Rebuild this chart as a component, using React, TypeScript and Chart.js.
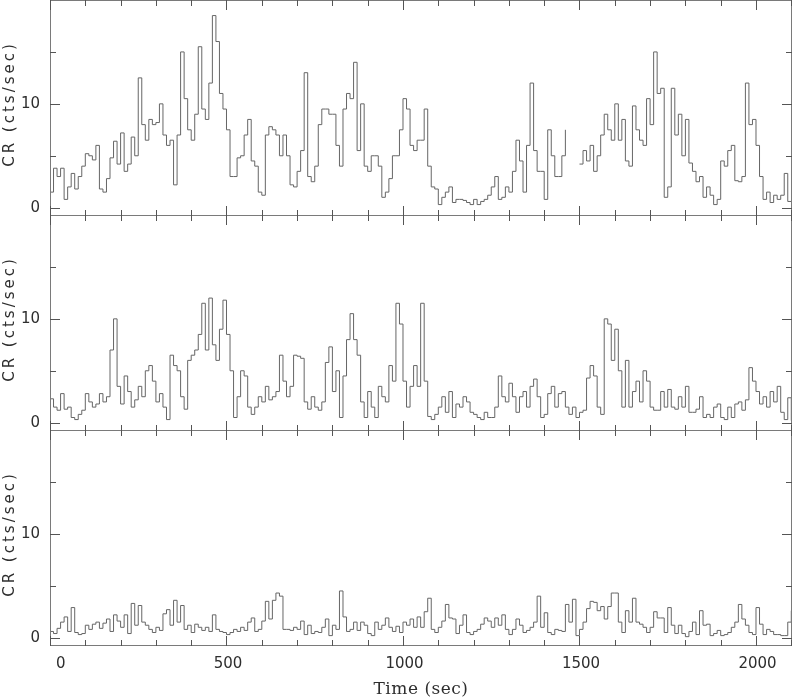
import React, { useEffect, useRef } from 'react';
import { Chart, registerables } from 'chart.js';

Chart.register(...registerables);

// ---- data -------------------------------------------------------------
const BIN_SEC = 10; // light-curve bin width (s); bin start time = index * BIN_SEC
const X_TICK_LABELS = [0, 500, 1000, 1500, 2000];
const X_MINOR_STEP = 100;
const Y_TICK_LABELS = [0, 10];
const Y_MINOR_TICKS = [5, 15];
const X_TITLE = 'Time (sec)';
const Y_TITLE = 'CR (cts/sec)';

// count rate, panel 1 (top), one value per 10 s bin, 0 .. 2100 s
const RATE_A: (number | null)[] = [
  1.5, 3.8, 3.0, 3.8, 0.8, 2.0, 3.3, 1.8, 3.0, 4.0,
  5.2, 5.0, 4.6, 6.0, 1.8, 1.5, 2.8, 4.8, 6.4, 4.2,
  7.2, 3.5, 4.2, 6.8, 5.0, 12.5, 8.0, 6.5, 8.5, 8.0,
  8.2, 10.0, 7.0, 6.0, 6.5, 2.2, 7.0, 15.0, 10.5, 7.5,
  6.5, 9.0, 15.5, 9.5, 8.5, 12.0, 18.5, 16.0, 11.0, 9.5,
  7.5, 3.0, 3.0, 4.8, 5.0, 7.0, 8.5, 4.5, 4.0, 1.5,
  1.2, 7.0, 7.8, 7.5, 7.0, 5.0, 7.0, 5.0, 2.2, 2.0,
  3.5, 5.5, 13.0, 3.0, 2.5, 4.0, 8.0, 9.5, 9.5, 9.0,
  9.0, 6.0, 4.0, 9.5, 11.0, 10.5, 14.0, 5.5, 10.0, 4.0,
  3.5, 5.0, 5.0, 4.0, 1.0, 1.5, 2.8, 5.0, 5.0, 7.5,
  10.5, 9.5, 6.0, 5.5, 6.5, 6.5, 9.5, 4.0, 2.0, 1.8,
  0.3, 1.0, 1.5, 2.0, 0.5, 0.8, 0.8, 0.7, 0.5, 0.3,
  0.8, 0.3, 0.6, 0.8, 1.2, 2.0, 3.0, 0.8, 1.0, 2.0,
  1.5, 3.5, 6.5, 4.5, 1.5, 6.0, 12.0, 5.5, 3.5, 3.5,
  0.8, 7.5, 5.0, 3.0, 3.0, 5.0, 7.5, null, null, null,
  4.2, 5.5, 4.5, 6.0, 3.5, 5.0, 7.0, 9.0, 7.5, 6.5,
  10.0, 6.5, 8.5, 4.5, 4.0, 9.8, 7.5, 6.5, 6.0, 10.5,
  8.0, 15.0, 11.0, 11.5, 1.0, 2.0, 11.5, 7.0, 9.0, 5.0,
  8.5, 4.3, 3.5, 2.5, 3.0, 1.0, 2.0, 1.2, 0.3, 0.8,
  4.5, 4.0, 5.5, 6.0, 2.6, 2.5, 3.0, 12.0, 8.0, 8.5,
  6.0, 3.0, 0.8, 1.5, 0.5, 1.2, 0.8, 1.2, 3.3, 0.6,
  0.6,
];

// count rate, panel 2 (middle)
const RATE_B: (number | null)[] = [
  2.3, 1.5, 1.2, 2.8, 1.3, 1.5, 0.5, 0.3, 0.8, 1.2,
  2.8, 2.0, 1.5, 1.8, 2.8, 2.0, 2.5, 7.0, 10.0, 3.5,
  1.8, 4.5, 3.0, 1.5, 2.2, 3.5, 2.5, 5.0, 5.5, 4.0,
  2.0, 2.8, 1.5, 0.3, 6.5, 5.5, 5.0, 2.5, 1.3, 6.0,
  6.5, 7.0, 8.5, 11.5, 7.0, 12.0, 7.5, 6.0, 9.0, 11.8,
  8.5, 5.0, 0.5, 2.5, 5.0, 4.5, 1.5, 0.8, 1.5, 2.5,
  2.0, 3.5, 2.2, 2.5, 3.0, 6.5, 4.0, 2.5, 3.5, 6.5,
  6.4, 6.2, 2.0, 1.3, 2.5, 1.5, 1.2, 2.0, 5.8, 7.3,
  3.0, 5.0, 0.5, 4.5, 8.0, 10.5, 8.0, 6.5, 2.0, 0.5,
  3.0, 1.5, 0.5, 3.5, 2.5, 2.0, 5.5, 4.0, 11.5, 9.5,
  4.0, 1.5, 3.5, 5.5, 3.5, 11.5, 4.0, 0.6, 0.3, 0.8,
  1.5, 2.5, 1.0, 3.0, 0.5, 1.8, 1.5, 2.5, 2.0, 1.0,
  0.8, 0.5, 0.3, 1.0, 0.5, 0.5, 1.5, 4.5, 2.5, 2.0,
  3.8, 2.5, 1.0, 2.5, 3.0, 1.5, 3.5, 4.2, 2.5, 0.5,
  0.8, 2.8, 3.5, 1.5, 2.8, 3.0, 1.5, 0.8, 1.5, 0.5,
  1.0, 1.2, 4.3, 5.5, 4.5, 1.5, 0.8, 10.0, 9.5, 6.0,
  9.0, 5.0, 1.5, 6.0, 1.5, 3.0, 4.0, 2.0, 5.0, 4.0,
  1.5, 1.2, 1.2, 3.0, 1.5, 3.2, 1.5, 1.3, 2.5, 1.5,
  3.5, 1.0, 1.0, 1.3, 2.5, 0.5, 0.8, 0.5, 1.5, 1.8,
  0.5, 0.3, 1.5, 0.5, 1.8, 2.0, 1.2, 2.2, 5.3, 4.0,
  3.0, 1.8, 2.5, 1.5, 3.0, 2.0, 3.5, 1.0, 0.3, 2.4,
  0.2,
];

// count rate, panel 3 (bottom)
const RATE_C: (number | null)[] = [
  0.6, 0.4, 0.9, 1.5, 2.0, 0.6, 2.9, 0.5, 0.3, 0.4,
  1.2, 0.8, 1.3, 1.5, 0.9, 1.4, 1.8, 0.6, 2.2, 1.6,
  1.0, 2.2, 0.4, 3.3, 1.2, 3.1, 1.5, 1.2, 0.8, 0.5,
  1.0, 0.7, 2.3, 2.7, 1.2, 3.6, 1.5, 3.1, 0.8, 1.2,
  0.5, 1.3, 1.0, 0.7, 1.0, 0.6, 2.2, 0.8, 0.6, 0.5,
  0.3, 0.5, 0.8, 0.6, 1.0, 0.7, 1.5, 1.9, 0.6, 0.8,
  1.6, 3.5, 1.8, 3.6, 4.3, 4.0, 0.8, 0.8, 0.7, 1.0,
  0.8, 1.6, 0.3, 1.2, 0.4, 0.6, 0.5, 1.0, 1.8, 0.2,
  1.2, 0.8, 4.5, 2.0, 0.6, 0.8, 1.5, 0.7, 1.5, 1.2,
  0.4, 0.2, 1.5, 0.8, 1.2, 1.9, 1.0, 0.6, 1.1, 0.5,
  1.5, 1.2, 1.8, 1.0, 2.0, 1.0, 2.5, 3.8, 0.8, 0.5,
  1.0, 1.6, 3.2, 1.9, 1.8, 0.4, 1.2, 2.2, 0.5, 0.3,
  0.6, 0.8, 1.3, 1.9, 1.6, 1.0, 1.9, 1.2, 2.2, 0.8,
  0.3, 0.8, 1.8, 1.2, 0.5, 0.7, 1.0, 1.5, 4.0, 1.0,
  2.4, 0.5, 0.3, 0.8, 0.7, 0.6, 3.2, 1.5, 3.7, 0.2,
  0.8, 1.5, 2.8, 3.5, 3.4, 2.6, 3.0, 1.8, 3.0, 4.3,
  4.3, 1.5, 0.5, 2.6, 1.5, 3.8, 1.5, 1.3, 1.0, 0.5,
  1.0, 2.5, 1.9, 1.9, 0.5, 2.9, 1.2, 0.4, 1.2, 0.4,
  0.1, 0.6, 1.5, 0.3, 2.6, 1.2, 1.3, 0.2, 0.4, 0.7,
  0.2, 0.3, 0.5, 1.0, 1.5, 3.2, 1.8, 1.2, 0.5, 0.3,
  2.9, 1.3, 0.3, 0.8, 0.6, 0.3, 0.3, 0.2, 0.2, 1.5,
  2.6,
];

// ---- styling ----------------------------------------------------------
const LINE_COLOR = '#666666';
const FRAME_COLOR = '#7a7a7a';
const TICK_COLOR = '#555555';
const TEXT_COLOR = '#2e2e2e';
const SANS = '"DejaVu Sans", sans-serif';
const SERIF = '"DejaVu Serif", serif';

const X_MIN = 0;
const X_MAX = 2102;
const Y_MIN = -0.8;
const Y_MAX = 20;

type Panel = {
  rates: (number | null)[];
  top: number;
  height: number;
  padBottom: number;
  showX: boolean;
};

const PANELS: Panel[] = [
  { rates: RATE_A, top: 0, height: 216, padBottom: 0, showX: false },
  { rates: RATE_B, top: 215, height: 216, padBottom: 0, showX: false },
  { rates: RATE_C, top: 430, height: 267, padBottom: 51, showX: true },
];

const framePlugin = {
  id: 'pgFrame',
  afterDraw(chart: any, _args: any, opts: any) {
    const { ctx, chartArea: a, scales } = chart;
    const x = scales.x;
    const y = scales.y;
    ctx.save();
    // frame
    ctx.strokeStyle = FRAME_COLOR;
    ctx.lineWidth = 1;
    const L = Math.round(a.left);
    const T = Math.round(a.top);
    const R = Math.round(a.right);
    const B = Math.round(a.bottom);
    ctx.strokeRect(L + 0.5, T + 0.5, R - L - 1, B - T - 1);

    // inward ticks
    ctx.strokeStyle = TICK_COLOR;
    ctx.beginPath();
    for (let v = X_MIN; v <= X_MAX; v += X_MINOR_STEP) {
      const px = Math.round(x.getPixelForValue(v)) + 0.5;
      const len = X_TICK_LABELS.includes(v) ? 10 : 6;
      ctx.moveTo(px, T);
      ctx.lineTo(px, T + len);
      ctx.moveTo(px, B);
      ctx.lineTo(px, B - len);
    }
    const yTicks = [...Y_TICK_LABELS.map((v) => [v, 10]), ...Y_MINOR_TICKS.map((v) => [v, 6])];
    yTicks.forEach(([v, len]) => {
      const py = Math.round(y.getPixelForValue(v)) + 0.5;
      ctx.moveTo(L, py);
      ctx.lineTo(L + len, py);
      ctx.moveTo(R, py);
      ctx.lineTo(R - len, py);
    });
    ctx.stroke();

    // y title
    ctx.fillStyle = TEXT_COLOR;
    ctx.save();
    ctx.translate(10, T + 104);
    ctx.rotate(-Math.PI / 2);
    ctx.font = `15px ${SANS}`;
    (ctx as any).letterSpacing = '3px';
    ctx.textAlign = 'center';
    ctx.textBaseline = 'middle';
    ctx.fillText(Y_TITLE, 0, 0);
    ctx.restore();

    if (opts && opts.showX) {
      ctx.font = `15px ${SANS}`;
      ctx.textBaseline = 'alphabetic';
      X_TICK_LABELS.forEach((v, i) => {
        const px = x.getPixelForValue(v);
        if (i === 0) {
          ctx.textAlign = 'left';
          ctx.fillText(String(v), px + 6, B + 22);
        } else {
          ctx.textAlign = 'center';
          ctx.fillText(String(v), px + 1.5, B + 22);
        }
      });
      ctx.font = `17px ${SERIF}`;
      (ctx as any).letterSpacing = '0.5px';
      ctx.textAlign = 'center';
      ctx.fillText(X_TITLE, (a.left + a.right) / 2, B + 48);
    }
    ctx.restore();
  },
};

function makeConfig(p: Panel): any {
  const points = p.rates.map((v, i) => ({ x: i * BIN_SEC, y: v }));
  return {
    type: 'line',
    data: {
      datasets: [
        {
          data: points,
          borderColor: LINE_COLOR,
          borderWidth: 1,
          pointRadius: 0,
          stepped: true,
          fill: false,
          spanGaps: false,
          tension: 0,
        },
      ],
    },
    options: {
      animation: false,
      responsive: false,
      maintainAspectRatio: false,
      devicePixelRatio: 1,
      events: [],
      layout: { padding: { left: 0, right: 0, top: 0, bottom: p.padBottom } },
      plugins: {
        legend: { display: false },
        tooltip: { enabled: false },
        pgFrame: { showX: p.showX },
      },
      scales: {
        x: {
          type: 'linear',
          min: X_MIN,
          max: X_MAX,
          display: false,
        },
        y: {
          type: 'linear',
          min: Y_MIN,
          max: Y_MAX,
          grid: { display: false, drawTicks: false },
          border: { display: false },
          afterBuildTicks: (s: any) => {
            s.ticks = Y_TICK_LABELS.map((v) => ({ value: v }));
          },
          ticks: {
            padding: 10,
            color: TEXT_COLOR,
            font: { family: SANS, size: 15 },
          },
          afterFit: (s: any) => {
            s.width = 50;
            s.paddingTop = 0;
            s.paddingBottom = 0;
          },
        },
      },
    },
    plugins: [framePlugin],
  };
}

export default function App() {
  const r0 = useRef<HTMLCanvasElement>(null);
  const r1 = useRef<HTMLCanvasElement>(null);
  const r2 = useRef<HTMLCanvasElement>(null);
  const refs = [r0, r1, r2];

  useEffect(() => {
    const charts = PANELS.map((p, i) => new Chart(refs[i].current as HTMLCanvasElement, makeConfig(p)));
    return () => charts.forEach((c) => c.destroy());
  }, []);

  return (
    <div style={{ position: 'absolute', left: 0, top: 0, width: 792, height: 697, background: '#ffffff' }}>
      {PANELS.map((p, i) => (
        <canvas
          key={i}
          ref={refs[i]}
          width={792}
          height={p.height}
          style={{ position: 'absolute', left: 0, top: p.top, width: 792, height: p.height, display: 'block' }}
        />
      ))}
    </div>
  );
}
